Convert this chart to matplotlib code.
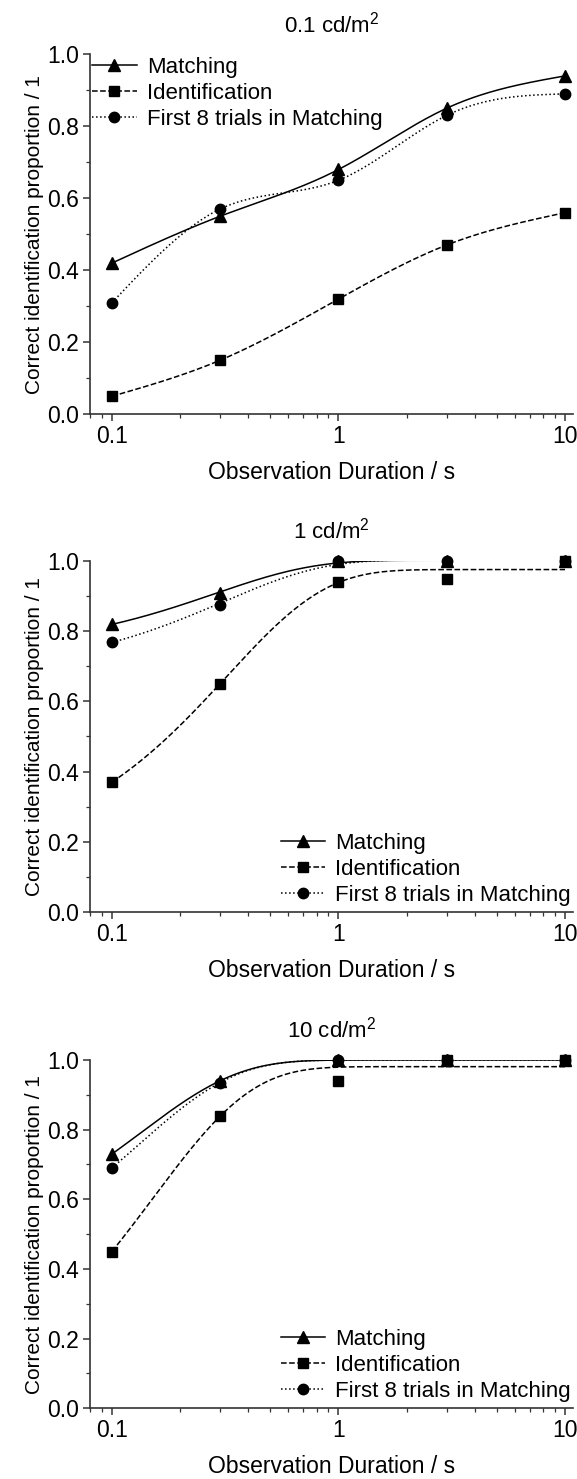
import numpy as np
import matplotlib
matplotlib.use("Agg")
import matplotlib.pyplot as plt
from matplotlib.ticker import LogLocator, MultipleLocator, FixedLocator, NullFormatter

plt.rcParams['font.family'] = ['Liberation Sans', 'DejaVu Sans']
plt.rcParams['mathtext.fontset'] = 'custom'
plt.rcParams['mathtext.rm'] = 'Liberation Sans'

durations = [0.1, 0.3, 1, 3, 10]
titles = ['0.1 cd/m$^2$', '1 cd/m$^2$', '10 cd/m$^2$']
labels = ['Matching', 'Identification', 'First 8 trials in Matching']

# 0.1 cd/m2
match_01 = [0.42, 0.55, 0.68, 0.85, 0.94]
ident_01 = [0.05, 0.15, 0.32, 0.47, 0.56]
first8_01 = [0.31, 0.57, 0.65, 0.83, 0.89]
# 1 cd/m2
match_1 = [0.82, 0.91, 1.0, 1.0, 1.0]
ident_1 = [0.37, 0.65, 0.94, 0.95, 1.0]
first8_1 = [0.77, 0.875, 1.0, 1.0, 1.0]
# 10 cd/m2
match_10 = [0.73, 0.94, 1.0, 1.0, 1.0]
ident_10 = [0.45, 0.84, 0.94, 1.0, 1.0]
first8_10 = [0.69, 0.935, 1.0, 1.0, 1.0]


def spline_curve(x, y, n=300):
    # natural cubic spline through the points, in log10(x)
    u = np.log10(x)
    y = np.asarray(y, float)
    k = len(u)
    h = np.diff(u)
    A = np.zeros((k, k))
    b = np.zeros(k)
    A[0, 0] = 1
    A[-1, -1] = 1
    for i in range(1, k - 1):
        A[i, i - 1] = h[i - 1]
        A[i, i] = 2 * (h[i - 1] + h[i])
        A[i, i + 1] = h[i]
        b[i] = 6 * ((y[i + 1] - y[i]) / h[i] - (y[i] - y[i - 1]) / h[i - 1])
    M = np.linalg.solve(A, b)
    uu = np.linspace(u[0], u[-1], n)
    yy = np.zeros(n)
    for j, t in enumerate(uu):
        i = min(np.searchsorted(u, t, side='right') - 1, k - 2)
        a = u[i + 1] - t
        c = t - u[i]
        yy[j] = (M[i] * a ** 3 + M[i + 1] * c ** 3) / (6 * h[i]) \
            + (y[i] / h[i] - M[i] * h[i] / 6) * a + (y[i + 1] / h[i] - M[i + 1] * h[i] / 6) * c
    return 10 ** uu, yy


def expfit_curve(x, y, n=300):
    # least squares fit of y = A - B*exp(-x/t)
    x = np.asarray(x, float)
    y = np.asarray(y, float)
    best = None
    for t in np.logspace(-2, 1, 600):
        X = np.column_stack([np.ones_like(x), -np.exp(-x / t)])
        coef, *_ = np.linalg.lstsq(X, y, rcond=None)
        err = np.sum((X @ coef - y) ** 2)
        if best is None or err < best[0]:
            best = (err, t, coef)
    _, t, coef = best
    xx = np.logspace(np.log10(x[0]), np.log10(x[-1]), n)
    return xx, coef[0] - coef[1] * np.exp(-xx / t)


panels = [
    (match_01, ident_01, first8_01, spline_curve),
    (match_1, ident_1, first8_1, expfit_curve),
    (match_10, ident_10, first8_10, expfit_curve),
]
# axes rects [left, bottom, width, height]
rects = [
    [0.156, 0.7199, 0.837, 0.2434],
    [0.156, 0.3834, 0.837, 0.2373],
    [0.156, 0.0478, 0.837, 0.2355],
]
styles = [('-', '^', 8), ('--', 's', 6.5), (':', 'o', 7.5)]

fig = plt.figure(figsize=(5.77, 14.79), dpi=100)
for k, (m, idn, f8, curve) in enumerate(panels):
    ax = fig.add_axes(rects[k])
    for series, lab, (ls, mk, ms) in zip([m, idn, f8], labels, styles):
        cx, cy = curve(durations, series)
        ax.plot(cx, cy, color='black', linestyle=ls, linewidth=1.1)
        ax.plot(durations, series, linestyle='none', marker=mk, ms=ms,
                color='black', clip_on=False, zorder=5)
        ax.plot([], [], color='black', linestyle=ls, linewidth=1.1,
                marker=mk, ms=ms, label=lab)
    ax.set_xscale('log')
    ax.set_xlim(0.08, 10.84)
    ax.set_ylim(0, 1.0)
    ax.xaxis.set_major_locator(FixedLocator([0.1, 1, 10]))
    ax.set_xticklabels(['0.1', '1', '10'])
    ax.xaxis.set_minor_locator(LogLocator(base=10, subs=np.arange(2, 10)))
    ax.xaxis.set_minor_formatter(NullFormatter())
    ax.yaxis.set_minor_locator(MultipleLocator(0.1))
    ax.set_yticks([0, 0.2, 0.4, 0.6, 0.8, 1.0])
    ax.set_yticklabels(['0.0', '0.2', '0.4', '0.6', '0.8', '1.0'])
    for side in ['top', 'right']:
        ax.spines[side].set_visible(False)
    for side in ['left', 'bottom']:
        ax.spines[side].set_color('#333333')
        ax.spines[side].set_linewidth(1.2)
    ax.tick_params(which='major', direction='out', length=5, width=1.1,
                   labelsize=16.5, color='#333333', pad=3)
    ax.tick_params(which='minor', direction='out', length=3, width=0.9, color='#333333')
    ax.set_title(titles[k], fontsize=16, pad=16)
    ax.set_xlabel('Observation Duration / s', fontsize=16.5, labelpad=9)
    ax.set_ylabel('Correct identification proportion / 1', fontsize=15, labelpad=2)
    if k == 0:
        ax.legend(loc='upper left', bbox_to_anchor=(0.0, 0.998), frameon=False,
                  fontsize=16, handlelength=2.0, labelspacing=0.22,
                  handletextpad=0.45, borderaxespad=0, borderpad=0.1)
    else:
        ax.legend(loc='lower right', bbox_to_anchor=(1.0, 0.012), frameon=False,
                  fontsize=16, handlelength=2.0, labelspacing=0.22,
                  handletextpad=0.45, borderaxespad=0, borderpad=0.1)

fig.savefig('out.png', dpi=100)
